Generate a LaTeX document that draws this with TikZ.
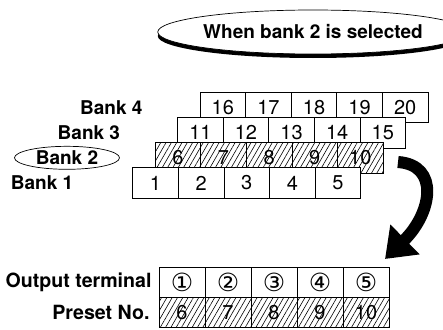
\documentclass[tikz,border=0pt]{standalone}
\usepackage{fontspec}
\setmainfont{TeX Gyre Heros}
\newfontfamily\circfont{DejaVu Sans}
\usetikzlibrary{positioning,arrows.meta,patterns.meta,shapes.geometric,shadows}
\tikzset{
  cell/.style  ={draw, fill=white, line width=0.7pt, minimum width=45.6pt,
                 minimum height=30.5pt, inner sep=0pt, font=\fontsize{20}{20}\selectfont},
  hatch/.style ={cell, preaction={fill=white},
                 pattern={Lines[angle=60,distance=4.6pt,line width=0.6pt]}},
  tcell/.style ={cell, minimum width=46pt, minimum height=30pt},
  thatch/.style={hatch, minimum width=46pt, minimum height=30pt},
  lbl/.style   ={font=\fontsize{19}{19}\selectfont\bfseries, inner sep=0pt},
  tlbl/.style  ={lbl, font=\fontsize{19.6}{19.6}\selectfont\bfseries},
  ring/.style  ={lbl, draw, ellipse, line width=0.7pt, minimum width=105pt, minimum height=23pt},
  banner/.style={lbl, draw, ellipse, fill=white, line width=0.7pt, minimum width=256pt,
                 minimum height=44pt,
                 drop shadow={shadow xshift=0pt, shadow yshift=-4pt, fill=black, opacity=1}},
  bigarrow/.style={line width=12pt, -{Triangle[length=28pt,width=40pt]}}
}

\begin{document}
\begin{tikzpicture}[x=1pt, y=-1pt]
  \useasboundingbox (0,0) rectangle (443,329);

  \node[banner] (sel) at (313,32) {When bank 2 is selected};

  % bank rows, back to front
  \foreach \b/\n/\st [count=\r from 0] in {4/16/cell,3/11/cell,2/6/hatch,1/1/cell}
    \foreach \i in {0,...,4}{
      \pgfmathtruncatemacro\v{\n+\i}
      \node[\st] (b\b c\i) at ({222.8-22.43*\r+45.6*\i}, {107.55+25.13*\r}) {\v};
    }
  \node[lbl, left=57pt of b4c0] (lb4) {Bank 4};
  \node[lbl, left=57pt of b3c0] (lb3) {Bank 3};
  \node[ring, left=35pt of b2c0] (lb2) {Bank 2};
  \node[lbl, left=59pt of b1c0] (lb1) {Bank 1};

  % output table
  \foreach \c/\v [count=\i from 0] in {①/6,②/7,③/8,④/9,⑤/10}{
    \node[tcell] (ot\i) at ({182+46*\i}, 282.7) {\circfont\fontsize{25}{25}\selectfont\c};
    \node[thatch] (ps\i) at ({182+46*\i}, 312.7) {\v};
  }
  \node[tlbl, left=7pt of ot0] (olbl) {Output terminal};
  \node[tlbl, left=9pt of ps0] (plbl) {Preset No.};

  \coordinate (atail) at (398,162);
  \coordinate (ahead) at (385,259);
  \draw[bigarrow] (atail) .. controls (440,165) and (432,213) .. (ahead);
\end{tikzpicture}
\end{document}
